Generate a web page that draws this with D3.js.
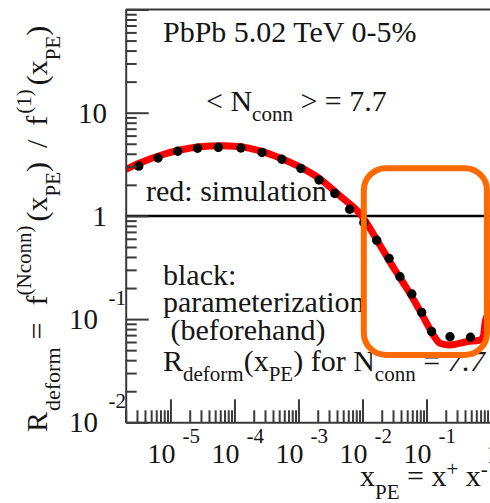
<!DOCTYPE html>
<html>
<head>
<meta charset="utf-8">
<script src="https://cdn.jsdelivr.net/npm/d3@7/dist/d3.min.js"></script>
<style>
  html, body { margin: 0; padding: 0; background: #fff; }
  svg { display: block; }
</style>
</head>
<body>
<svg id="chart" width="490" height="503"></svg>
<script>
// Simulation result: R_deform vs x_PE (red curve)
const simX = [2e-6, 3.33e-6, 6.86e-6, 1.41e-5, 2.89e-5, 5.93e-5, 1.22e-4, 2.5e-4, 5.14e-4,
  1.05e-3, 2.17e-3, 4.45e-3, 9.72e-3, 1.87e-2, 3.22e-2, 4.91e-2, 7.03e-2, 0.1008, 0.1277,
  0.1625, 0.233, 0.425, 0.686, 0.772, 0.82, 0.914, 1.0];
const simY = [2.82, 3.26, 3.85, 4.35, 4.68, 4.78, 4.68, 4.26, 3.64,
  2.98, 2.28, 1.56, 1.0, 0.522, 0.299, 0.199, 0.137, 0.0911, 0.0702,
  0.0583, 0.0561, 0.0604, 0.0627, 0.0676, 0.091, 0.1146, 0.154];

// Parameterization determined beforehand (black dots)
const parX = [3.2e-6, 6.4e-6, 1.3e-5, 2.65e-5, 5.6e-5, 1.26e-4, 2.7e-4, 5.5e-4, 1.09e-3,
  2.1e-3, 3.7e-3, 6.3e-3, 1.05e-2, 1.67e-2, 2.6e-2, 3.85e-2, 5.9e-2, 8.4e-2, 0.12, 0.233, 0.487];
const parY = [3.04, 3.64, 4.23, 4.52, 4.62, 4.55, 4.11, 3.54, 2.89,
  2.23, 1.65, 1.16, 0.86, 0.58, 0.388, 0.257, 0.175, 0.116, 0.0758, 0.0675, 0.0667];

// Axis decades and their labels
const xDecades = [1e-5, 1e-4, 1e-3, 1e-2, 1e-1, 1];
const xExponents = ["-5", "-4", "-3", "-2", "-1", ""];
const yDecades = [0.01, 0.1, 1, 10];
const yExponents = ["-2", "-1", "", ""];
const yBases = ["10", "10", "1", "10"];

// Highlighted region (data units)
const boxX = [0.0105, 0.88];
const boxY = [0.045, 2.9];

const FONT = "'Liberation Serif', 'Times New Roman', Tinos, 'DejaVu Serif', serif";
const INK = "#151515";

const svg = d3.select("#chart");
const L = 125.7, R = 490.5, T = 9.5, B = 422.3;

const x = d3.scaleLog().domain([2e-6, 1]).range([L, R]);
const y = d3.scaleLog().domain([0.01, 100]).range([B, T]);

function logTicks(domain) {
  const out = [];
  for (let e = -7; e <= 2; e++) {
    for (let k = 1; k <= 9; k++) {
      const v = k * Math.pow(10, e);
      if (v >= domain[0] * 0.999 && v <= domain[1] * 1.001) out.push(+v.toPrecision(3));
    }
  }
  return out;
}
const isMajor = v => Math.abs(Math.log10(v) - Math.round(Math.log10(v))) < 1e-6;

function label(px, py, size, str) {
  return svg.append("text")
    .attr("x", px).attr("y", py)
    .attr("font-family", FONT)
    .attr("font-size", size)
    .attr("fill", INK)
    .text(str);
}

// clip region for the plotted curves
svg.append("clipPath").attr("id", "plotClip")
  .append("rect").attr("x", L).attr("y", T).attr("width", R - L + 2).attr("height", B - T);

// reference line at R = 1
svg.append("line")
  .attr("x1", L).attr("x2", 490)
  .attr("y1", y(1)).attr("y2", y(1))
  .attr("stroke", "#000").attr("stroke-width", 2.5);

// simulation curve
const line = d3.line()
  .x(d => x(d[0])).y(d => y(d[1]))
  .curve(d3.curveMonotoneX);
svg.append("path")
  .datum(simX.map((v, i) => [v, simY[i]]))
  .attr("clip-path", "url(#plotClip)")
  .attr("d", line)
  .attr("fill", "none")
  .attr("stroke", "#ff0000")
  .attr("stroke-width", 7)
  .attr("stroke-linejoin", "round");

// parameterization dots
svg.append("g").attr("clip-path", "url(#plotClip)")
  .selectAll("circle")
  .data(parX.map((v, i) => [v, parY[i]]))
  .join("circle")
  .attr("cx", d => x(d[0]))
  .attr("cy", d => y(d[1]))
  .attr("r", 4.7)
  .attr("fill", "#000");

// axes
const axisColor = "#3a3a3a";
const gx = svg.append("g").attr("transform", `translate(0,${B})`)
  .call(d3.axisBottom(x).tickValues(logTicks([2e-6, 1])).tickFormat("").tickSizeOuter(0).tickSize(0));
gx.selectAll(".tick line")
  .attr("y2", d => isMajor(d) ? -23 : -12);
gx.selectAll("line, path").attr("stroke", axisColor).attr("stroke-width", 2);

const gy = svg.append("g").attr("transform", `translate(${L},0)`)
  .call(d3.axisLeft(y).tickValues(logTicks([0.01, 100])).tickFormat("").tickSizeOuter(0).tickSize(0));
gy.selectAll(".tick line")
  .attr("x2", d => isMajor(d) ? 23 : 11);
gy.selectAll("line, path").attr("stroke", axisColor).attr("stroke-width", 2);

// top frame
svg.append("line")
  .attr("x1", L).attr("x2", 490).attr("y1", T).attr("y2", T)
  .attr("stroke", axisColor).attr("stroke-width", 2);

// x tick labels
xDecades.forEach((v, i) => {
  const px = x(v);
  if (xExponents[i] === "") {
    label(px - 4, 463, 28, "1");
  } else {
    label(px + 5, 463, 28, "10").attr("text-anchor", "end");
    label(px + 12, 443, 21, xExponents[i]);
  }
});

// y tick labels
yDecades.forEach((v, i) => {
  const py = y(v);
  if (yExponents[i] === "") {
    label(107, py + 10, 29, yBases[i]).attr("text-anchor", "end");
  } else {
    label(98, py + 10, 29, yBases[i]).attr("text-anchor", "end");
    label(126, py - 14, 21, yExponents[i]).attr("text-anchor", "end");
  }
});

// rich text helper: parts = [[string, size, dy, style, dx]]
function rich(sel, parts) {
  sel.attr("font-family", FONT).attr("fill", INK);
  parts.forEach(p => {
    const t = sel.append("tspan").attr("font-size", p[1]).text(p[0]);
    if (p[2]) t.attr("dy", p[2]);
    if (p[3]) t.attr("font-style", p[3]);
    if (p[4]) t.attr("dx", p[4]);
  });
  return sel;
}

// y axis title
rich(svg.append("text").attr("transform", "translate(47,432) rotate(-90)"), [
  ["R", 30], ["deform", 22, 13, null, 1], ["=", 30, -13, null, 8], ["f", 30, 0, null, 17],
  ["(Nconn)", 21, -16],
  ["(x", 30, 16, null, 4], ["PE", 21, 13], [")", 30, -13], ["/", 30, 0, null, 14],
  ["f", 30, 0, null, 14], ["(1)", 21, -16, null, 2],
  ["(x", 30, 16, null, 4], ["PE", 21, 13], [")", 30, -13]
]);

// x axis title
rich(svg.append("text").attr("x", 360).attr("y", 486), [
  ["x", 30], ["PE", 21, 13], [" = x", 30, -13], ["+", 21, -10], [" x", 30, 10], ["-", 21, -10]
]);

// annotations
label(163, 42, 30, "PbPb 5.02 TeV 0-5%");
rich(svg.append("text").attr("x", 206).attr("y", 111), [
  ["< N", 30], ["conn", 21, 10], [" > = 7.7", 30, -10]
]);
label(146, 201, 30, "red: simulation");
label(163, 285, 30, "black:");
label(163, 312, 30, "parameterization");
label(163, 340, 30, "\u00a0(beforehand)");
rich(svg.append("text").attr("x", 163).attr("y", 371), [
  ["R", 30], ["deform", 21, 10], ["(x", 30, -10], ["PE", 21, 10], [") for N", 30, -10],
  ["conn", 21, 10], [" = ", 30, -10], ["7.7", 30, 0, "italic"]
]);

// highlight box
svg.append("rect")
  .attr("x", x(boxX[0])).attr("y", y(boxY[1]))
  .attr("width", x(boxX[1]) - x(boxX[0]))
  .attr("height", y(boxY[0]) - y(boxY[1]))
  .attr("rx", 22).attr("ry", 22)
  .attr("fill", "none")
  .attr("stroke", "#ff6a00")
  .attr("stroke-width", 6);
</script>
</body>
</html>
